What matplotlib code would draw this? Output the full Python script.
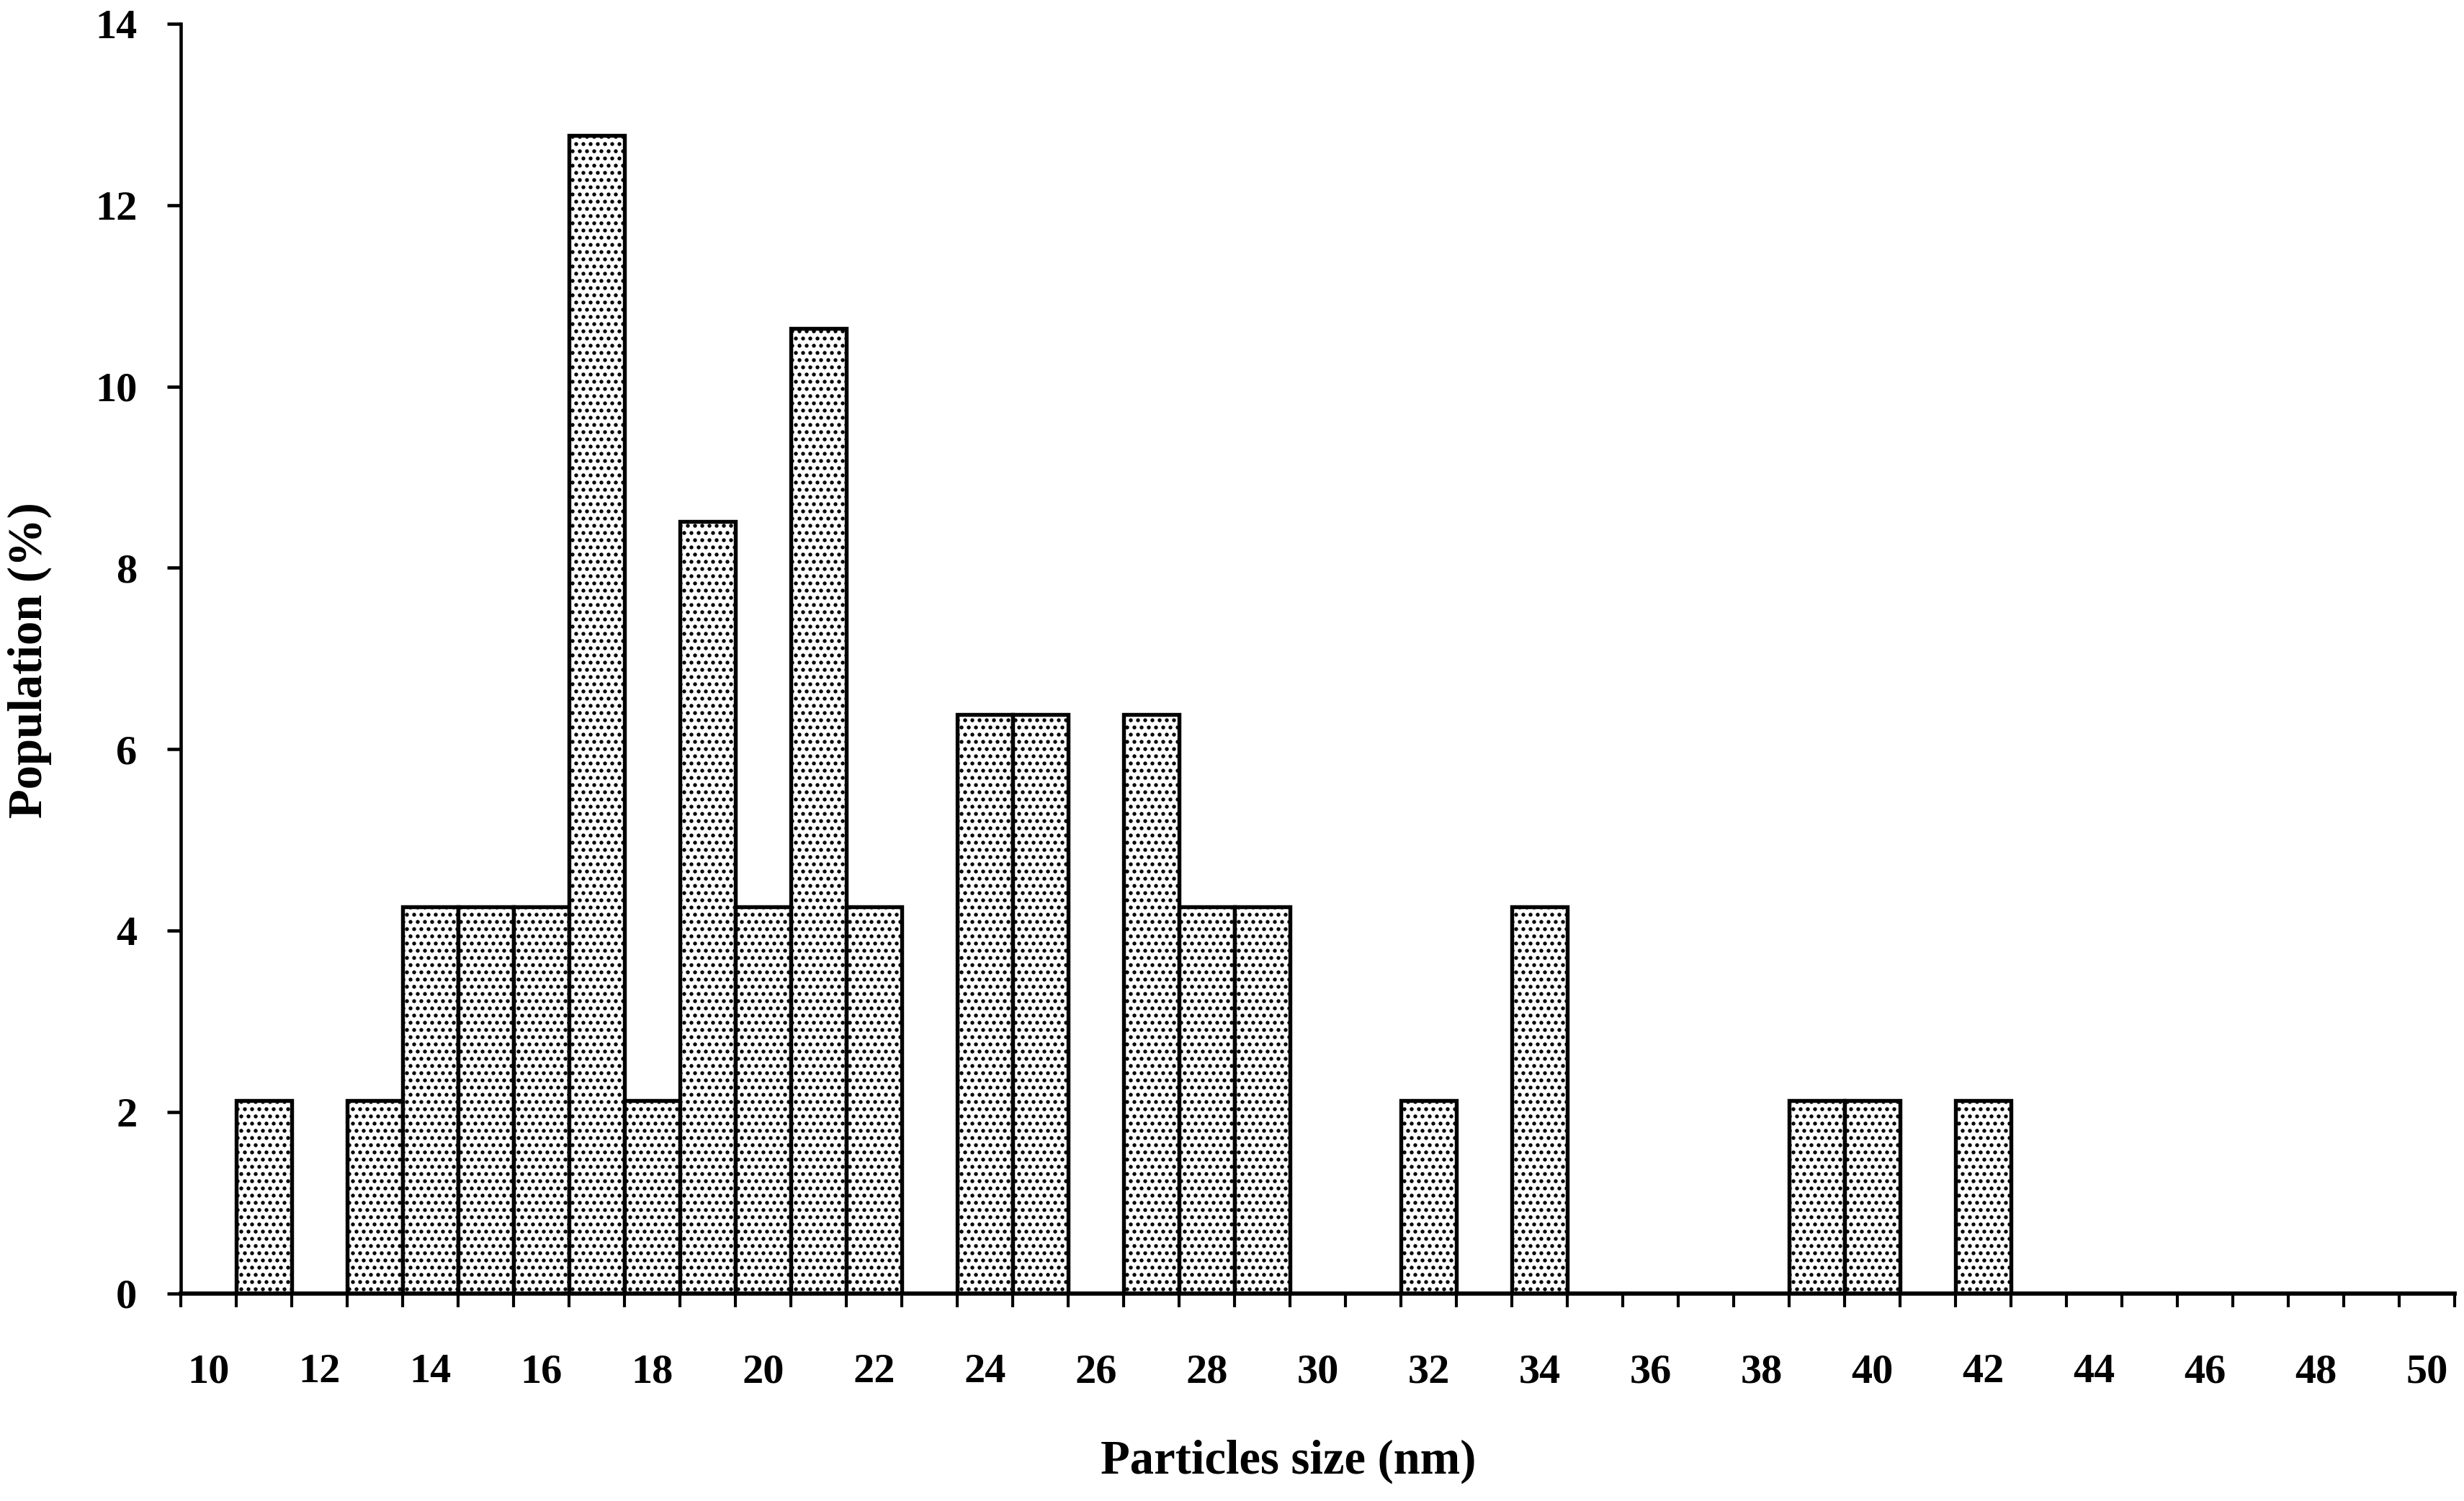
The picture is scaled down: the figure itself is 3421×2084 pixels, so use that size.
import matplotlib
matplotlib.use("Agg")
import matplotlib.pyplot as plt
from matplotlib.ticker import FixedLocator, NullFormatter

# ---- data ----
sizes = list(range(10, 51))
population = [0, 2.13, 0, 2.13, 4.26, 4.26, 4.26, 12.77, 2.13, 8.51,
              4.26, 10.64, 4.26, 0, 6.38, 6.38, 0, 6.38, 4.26, 4.26,
              0, 0, 2.13, 0, 4.26, 0, 0, 0, 0, 2.13,
              2.13, 0, 2.13, 0, 0, 0, 0, 0, 0, 0, 0]
xtick_labels = [str(v) for v in range(10, 51, 2)]
ytick_values = [0, 2, 4, 6, 8, 10, 12, 14]

plt.rcParams['font.family'] = ['Liberation Serif', 'DejaVu Serif']
plt.rcParams['font.weight'] = 'bold'
plt.rcParams['hatch.linewidth'] = 0.8
plt.rcParams['hatch.color'] = 'black'

fig = plt.figure(figsize=(3421 / 300, 2084 / 300), dpi=300)
ax = fig.add_axes([0.0733, 0.1382, 0.9229, 0.8461])

xs = [s for s, p in zip(sizes, population) if p > 0]
ys = [p for p in population if p > 0]
ax.bar(xs, ys, width=1.0, align='center', facecolor='white',
       edgecolor='black', linewidth=1.3, hatch='.....', zorder=2)

ax.set_xlim(sizes[0] - 0.5, sizes[-1] + 0.5)
ax.set_ylim(0, 14)

for side in ['top', 'right']:
    ax.spines[side].set_visible(False)
ax.spines['left'].set_linewidth(1.1)
ax.spines['bottom'].set_linewidth(1.4)
ax.spines['left'].set_zorder(3)
ax.spines['bottom'].set_zorder(3)

# boundary ticks (minor) and labels at even centres (major)
ax.xaxis.set_minor_locator(FixedLocator([s - 0.5 for s in sizes] + [sizes[-1] + 0.5]))
ax.xaxis.set_minor_formatter(NullFormatter())
ax.set_xticks(list(range(10, 51, 2)))
ax.set_xticklabels(xtick_labels)
ax.tick_params(axis='x', which='major', length=0, pad=20, labelsize=14)
ax.tick_params(axis='x', which='minor', length=4.5, width=1.0, direction='out')

ax.set_yticks(ytick_values)
ax.set_yticklabels([str(v) for v in ytick_values])
ax.tick_params(axis='y', which='major', length=4.5, width=1.1, direction='out',
               pad=10, labelsize=14)

for lbl in ax.get_xticklabels() + ax.get_yticklabels():
    lbl.set_fontweight('bold')

ax.set_xlabel('Particles size (nm)', fontsize=16, fontweight='bold')
ax.xaxis.label.set_va('center')
ax.xaxis.set_label_coords(820 / 1568, 1 - 930 / 955, transform=fig.transFigure)
ax.set_ylabel('Population (%)', fontsize=16, fontweight='bold')
ax.yaxis.label.set_va('center')
ax.yaxis.set_label_coords(19 / 1568, 1 - 420 / 955, transform=fig.transFigure)

fig.savefig('out.png', dpi=300, facecolor='white')
